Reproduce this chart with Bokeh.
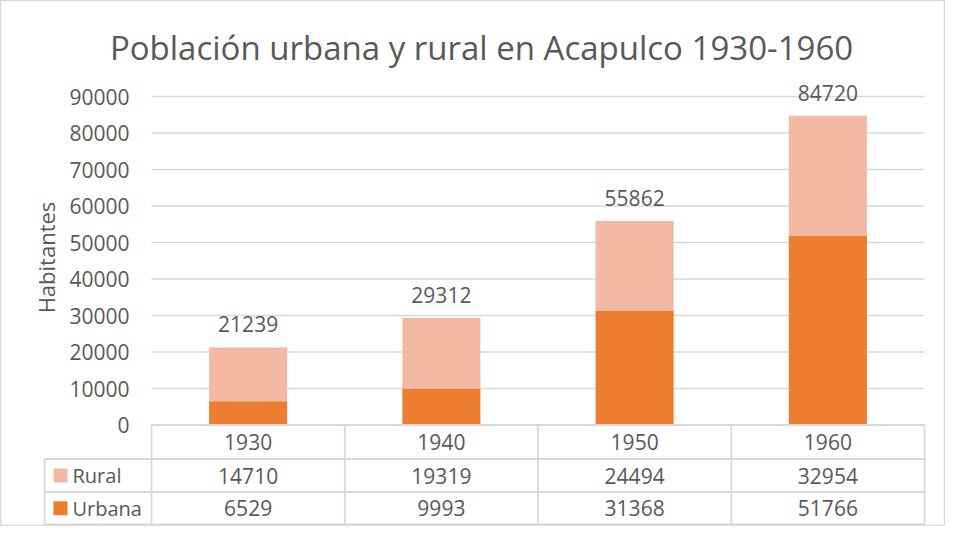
import math
from bokeh.plotting import figure
from bokeh.models import Range1d, ColumnDataSource
from bokeh.embed import file_html
from bokeh.resources import INLINE
from bokeh.core.properties import value

# ---- data ----
title_text = "Población urbana y rural en Acapulco 1930-1960"
years = ["1930", "1940", "1950", "1960"]
urbana = [6529, 9993, 31368, 51766]
rural = [14710, 19319, 24494, 32954]
series_names = ["Rural", "Urbana"]
y_ticks = [0, 10000, 20000, 30000, 40000, 50000, 60000, 70000, 80000, 90000]
y_label = "Habitantes"

# ---- styling / layout ----
FONT = value("Open Sans")
TXT = "#595959"
GRID = "#D9D9D9"
C_URB = "#ED7D31"
C_RUR = "#F4B9A2"
NUM_FS = "21px"

W, H = 945, 526
OX, OY = 0, 0
X0, CW = 151.0, 193.25
Y0, PY = 424.5, 328.5 / 90000.0


def ux(s):
    return (s - X0) / CW


def vy(s):
    return (Y0 - s) / PY


p = figure(width=W, height=H,
           x_range=Range1d(ux(OX), ux(OX + W)),
           y_range=Range1d(vy(OY + H), vy(OY)),
           x_axis_type=None, y_axis_type=None,
           output_backend="svg", toolbar_location=None,
           min_border=0, title=None)
p.outline_line_color = GRID
p.outline_line_width = 1.5
p.background_fill_color = "white"
p.border_fill_color = "white"

n = len(years)
xs = [i + 0.5 for i in range(n)]
totals = [u + r for u, r in zip(urbana, rural)]
src = ColumnDataSource(dict(x=xs, year=years, urbana=urbana, rural=rural,
                            total=totals,
                            total_s=[str(t) for t in totals],
                            rural_s=[str(v) for v in rural],
                            urbana_s=[str(v) for v in urbana]))

# gridlines
gt = [t for t in y_ticks if t > 0]
p.segment(x0=[0] * len(gt), x1=[n] * len(gt), y0=gt, y1=gt,
          line_color=GRID, line_width=1.5)

# stacked bars
BW = 0.404
p.vbar(x="x", bottom=0, top="urbana", width=BW, source=src,
       fill_color=C_URB, line_color=None)
p.vbar(x="x", bottom="urbana", top="total", width=BW, source=src,
       fill_color=C_RUR, line_color=None)

# total labels
p.text(x="x", y="total", text="total_s", source=src, y_offset=-23,
       text_align="center", text_baseline="middle",
       text_font=FONT, text_font_size=NUM_FS, text_color=TXT)

# y tick labels
p.text(x=[ux(129)] * len(y_ticks), y=y_ticks, text=[str(t) for t in y_ticks],
       text_align="right", text_baseline="middle",
       text_font=FONT, text_font_size=NUM_FS, text_color=TXT)

# axis title
p.text(x=[ux(45)], y=[vy(257)], text=[y_label], angle=math.pi / 2,
       text_align="center", text_baseline="middle",
       text_font=FONT, text_font_size="22px", text_color=TXT)

# chart title
p.text(x=[ux(481)], y=[vy(47)], text=[title_text],
       text_align="center", text_baseline="middle",
       text_font=FONT, text_font_size="33px", text_color=TXT)

# ---- data table ----
row_lines = [424.5, 458.5, 491.5, 524.0]
LEFT = 44
p.segment(x0=[0], x1=[n], y0=[vy(row_lines[0])], y1=[vy(row_lines[0])],
          line_color=GRID, line_width=1.8)
for s in row_lines[1:]:
    p.segment(x0=[ux(LEFT)], x1=[n], y0=[vy(s)], y1=[vy(s)],
              line_color=GRID, line_width=1.8)
p.segment(x0=list(range(n + 1)), x1=list(range(n + 1)),
          y0=[vy(row_lines[0])] * (n + 1), y1=[vy(row_lines[-1])] * (n + 1),
          line_color=GRID, line_width=1.8)
p.segment(x0=[ux(LEFT)], x1=[ux(LEFT)], y0=[vy(row_lines[1])],
          y1=[vy(row_lines[-1])], line_color=GRID, line_width=1.8)


def mid(a, b):
    return vy((row_lines[a] + row_lines[b]) / 2)


p.text(x="x", y=mid(0, 1), text="year", source=src,
       text_align="center", text_baseline="middle",
       text_font=FONT, text_font_size=NUM_FS, text_color=TXT)
p.text(x="x", y=mid(1, 2), text="rural_s", source=src,
       text_align="center", text_baseline="middle",
       text_font=FONT, text_font_size=NUM_FS, text_color=TXT)
p.text(x="x", y=mid(2, 3), text="urbana_s", source=src,
       text_align="center", text_baseline="middle",
       text_font=FONT, text_font_size=NUM_FS, text_color=TXT)

p.rect(x=[ux(60), ux(60)], y=[mid(1, 2), mid(2, 3)], width=14, height=14,
       width_units="screen", height_units="screen",
       fill_color=[C_RUR, C_URB], line_color=None)
p.text(x=[ux(72), ux(72)], y=[mid(1, 2), mid(2, 3)], text=series_names,
       text_align="left", text_baseline="middle",
       text_font=FONT, text_font_size="20px", text_color=TXT)

open("out.html", "w").write(file_html(p, INLINE))
